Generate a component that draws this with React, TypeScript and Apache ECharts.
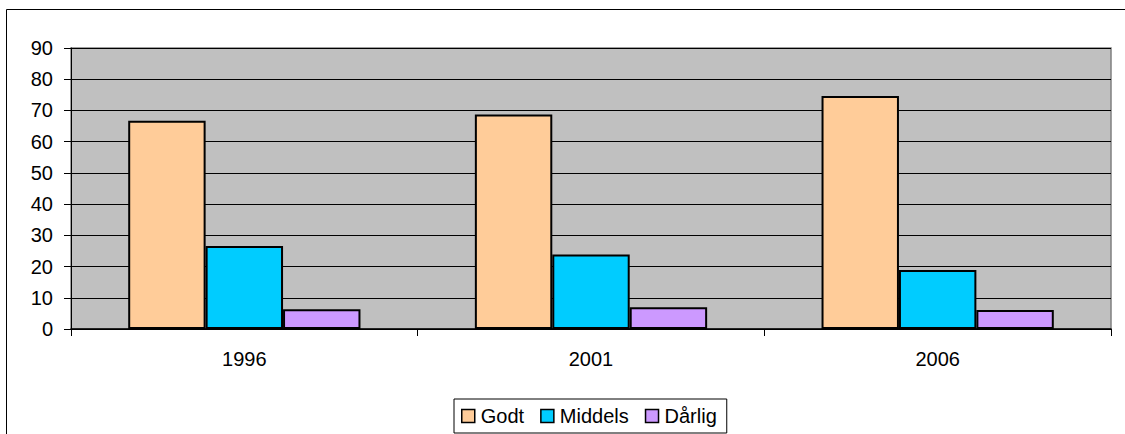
import React, { useEffect, useRef } from "react";
import * as echarts from "echarts";

const categories = ["1996", "2001", "2006"];
const seriesNames = ["Godt", "Middels", "Dårlig"];
const godt = [66.7, 68.7, 74.6];
const middels = [26.6, 23.9, 18.9];
const darlig = [6.3, 7.0, 6.1];
const colors = ["#FFCC99", "#00CCFF", "#CC99FF"];

const FONT = "'Liberation Sans', Arial, sans-serif";

export default function App() {
  const ref = useRef<HTMLDivElement>(null);
  useEffect(() => {
    document.body.style.margin = "0";
    const chart = echarts.init(ref.current!, null, { renderer: "svg" });
    const values = [godt, middels, darlig];
    chart.setOption({
      animation: false,
      backgroundColor: "#FFFFFF",
      textStyle: { fontFamily: FONT, color: "#000" },
      graphic: [
        {
          type: "rect",
          shape: { x: 6.5, y: 9.5, width: 1300, height: 600 },
          style: { fill: "none", stroke: "#000", lineWidth: 1 },
          silent: true,
          z: 100,
        },
      ],
      grid: {
        left: 71,
        right: 14,
        top: 48,
        bottom: 105,
        show: true,
        backgroundColor: "#C0C0C0",
        borderColor: "#808080",
        borderWidth: 1.5,
      },
      legend: {
        data: seriesNames,
        left: 454,
        top: 399,
        orient: "horizontal",
        itemWidth: 13,
        itemHeight: 13,
        itemGap: 16,
        padding: [7, 10, 7, 7],
        borderColor: "#000",
        borderWidth: 1,
        borderRadius: 0,
        icon: "rect",
        itemStyle: { borderColor: "#000", borderWidth: 1.5 },
        textStyle: { fontSize: 20, color: "#000", fontFamily: FONT, padding: [0, 0, 0, 1] },
      },
      xAxis: {
        type: "category",
        data: categories,
        boundaryGap: true,
        axisLine: { show: true, lineStyle: { color: "#000", width: 1.5 } },
        axisTick: { show: true, length: 7, lineStyle: { color: "#000", width: 1 } },
        axisLabel: { fontSize: 20, color: "#000", fontFamily: FONT, margin: 20 },
        splitLine: { show: false },
      },
      yAxis: {
        type: "value",
        min: 0,
        max: 90,
        interval: 10,
        axisLine: { show: true, lineStyle: { color: "#000", width: 1 } },
        axisTick: { show: true, length: 7, lineStyle: { color: "#000", width: 1 } },
        axisLabel: { fontSize: 20, color: "#000", fontFamily: FONT, margin: 18 },
        splitLine: { show: true, lineStyle: { color: "#000", width: 1 } },
      },
      series: seriesNames.map((name, i) => ({
        name,
        type: "bar",
        data: values[i],
        barGap: "0%",
        barCategoryGap: "33%",
        itemStyle: { color: colors[i], borderColor: "#000", borderWidth: 2 },
      })),
    });
    return () => chart.dispose();
  }, []);
  return <div ref={ref} style={{ width: 1125, height: 434 }} />;
}
